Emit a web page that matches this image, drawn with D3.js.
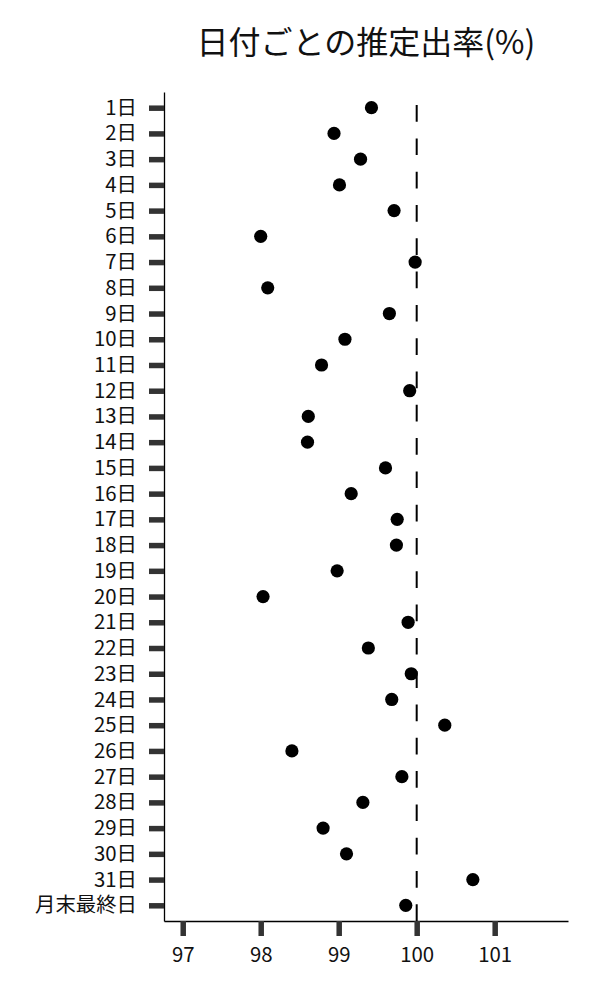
<!DOCTYPE html>
<html>
<head>
<meta charset="utf-8">
<script src="https://cdn.jsdelivr.net/npm/d3@7"></script>
<style>
  body { margin: 0; background: #fff; }
  text { font-family: "Noto Sans CJK JP", "Noto Sans", sans-serif; }
</style>
</head>
<body>
<svg id="vis" width="600" height="1000"></svg>
<script>
// categories (one per row) and estimated rates
var days = ["1日","2日","3日","4日","5日","6日","7日","8日","9日","10日",
  "11日","12日","13日","14日","15日","16日","17日","18日","19日","20日",
  "21日","22日","23日","24日","25日","26日","27日","28日","29日","30日",
  "31日","月末最終日"];
var rates = [99.42, 98.94, 99.28, 99.01, 99.71, 98.00, 99.98, 98.09, 99.65, 99.08,
  98.78, 99.91, 98.61, 98.60, 99.60, 99.16, 99.75, 99.74, 98.98, 98.03,
  99.89, 99.38, 99.93, 99.68, 100.36, 98.40, 99.81, 99.31, 98.80, 99.10,
  100.72, 99.86];
var xTicks = [97, 98, 99, 100, 101];
var refValue = 100;
var xDomain = [96.76, 101.94];

var svg = d3.select("#vis");

let margin = {
  top:    92,
  right:  32,
  bottom: 79,
  left:   164
};
let plotWidth = 600 - margin.left - margin.right;
let plotHeight = 1000 - margin.top - margin.bottom;

var xScale = d3.scaleLinear()
  .domain(xDomain)
  .range([0, plotWidth]);

var yScale = d3.scalePoint()
  .domain(days)
  .range([0, plotHeight])
  .padding(0.61);

let plot = svg.append("g").attr("id", "plot")
  .attr("transform", "translate(" + margin.left + "," + margin.top + ")");

// dashed reference line, drawn bottom-up so the dash starts at the axis
plot.append("line")
  .attr("x1", xScale(refValue))
  .attr("x2", xScale(refValue))
  .attr("y1", plotHeight)
  .attr("y2", 0)
  .attr("stroke", "#000")
  .attr("stroke-width", 2)
  .attr("stroke-dasharray", "16.7,16.6");

let xAxis = d3.axisBottom(xScale)
  .tickValues(xTicks)
  .tickFormat(d3.format("d"))
  .tickSize(15)
  .tickPadding(12)
  .tickSizeOuter(0);
let xGroup = plot.append("g").attr("id", "x-axis")
  .attr("transform", "translate(0," + plotHeight + ")")
  .call(xAxis);

let yAxis = d3.axisLeft(yScale)
  .tickSize(15)
  .tickPadding(12)
  .tickSizeOuter(0);
let yGroup = plot.append("g").attr("id", "y-axis")
  .call(yAxis);

[xGroup, yGroup].forEach(function(g){
  g.select(".domain").attr("stroke", "#000").attr("stroke-width", 1.3);
  g.selectAll(".tick line").attr("stroke", "#333").attr("stroke-width", 5.5);
  g.selectAll(".tick text")
    .attr("fill", "#111")
    .style("font-size", "20.4px");
});

// dots
plot.selectAll("circle.dot")
  .data(days)
  .enter()
  .append("circle")
  .attr("class", "dot")
  .attr("cx", function(d, i){ return xScale(rates[i]); })
  .attr("cy", function(d){ return yScale(d); })
  .attr("r", 6.6)
  .attr("fill", "#000");

svg.append("text")
  .attr("x", margin.left + plotWidth / 2)
  .attr("y", 54)
  .style("text-anchor", "middle")
  .style("font-size", "32px")
  .attr("fill", "#111")
  .text("日付ごとの推定出率(%)");
</script>
</body>
</html>
